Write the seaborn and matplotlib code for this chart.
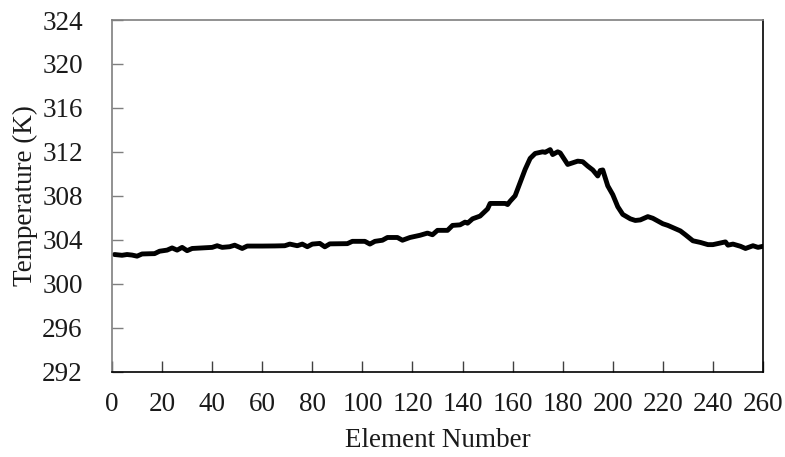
import matplotlib
matplotlib.use("Agg")
import matplotlib.pyplot as plt
import seaborn as sns
import pandas as pd

element = [1, 4, 6, 8, 10, 12, 15, 17, 19, 22, 24, 26, 28, 30, 32, 36, 40, 42, 44, 47,
           49, 52, 54, 60, 65, 69, 71, 74, 76, 78, 80, 83, 85, 87, 94, 96, 101, 103, 105, 108,
           110, 114, 116, 119, 123, 126, 128, 130, 134, 136, 139, 141, 142, 144, 147, 150, 151, 155, 157, 158,
           159, 161, 162, 164, 165, 167, 169, 172, 173, 175, 176, 178, 179, 182, 184, 186, 188, 190, 192, 194,
           195, 196, 198, 200, 202, 204, 207, 209, 211, 214, 216, 218, 220, 222, 225, 227, 229, 232, 235, 238,
           240, 242, 245, 246, 248, 251, 253, 256, 258, 260]
temperature = [302.65, 302.58, 302.65, 302.6, 302.5, 302.7, 302.72, 302.73, 302.95, 303.05, 303.25, 303.05, 303.3, 303.0, 303.2, 303.25, 303.3, 303.45, 303.3, 303.36,
               303.5, 303.2, 303.42, 303.42, 303.43, 303.45, 303.6, 303.45, 303.6, 303.36, 303.6, 303.66, 303.35, 303.62, 303.64, 303.85, 303.85, 303.6, 303.85, 303.95,
               304.2, 304.2, 303.95, 304.2, 304.4, 304.6, 304.45, 304.85, 304.85, 305.3, 305.35, 305.6, 305.5, 305.9, 306.15, 306.8, 307.3, 307.3, 307.3, 307.2,
               307.5, 308.0, 308.6, 309.8, 310.4, 311.4, 311.85, 312.0, 311.95, 312.2, 311.75, 312.0, 311.9, 310.85, 311.0, 311.15, 311.1, 310.7, 310.35, 309.8,
               310.3, 310.35, 308.9, 308.1, 307.0, 306.3, 305.9, 305.75, 305.8, 306.1, 305.95, 305.7, 305.45, 305.3, 305.0, 304.8, 304.45, 303.9, 303.75, 303.55,
               303.55, 303.65, 303.8, 303.5, 303.6, 303.4, 303.2, 303.45, 303.3, 303.4]

x_ticks = list(range(0, 261, 20))
y_ticks = list(range(292, 325, 4))

sns.set_theme(style="white")
plt.rcParams['font.family'] = ['Liberation Serif', 'DejaVu Serif']

df = pd.DataFrame({"Element Number": element, "Temperature (K)": temperature})

fig = plt.figure(figsize=(7.85, 4.57), dpi=100)
ax = fig.add_axes([112 / 785, 1 - 371.5 / 457, (763 - 112) / 785, (371.5 - 20) / 457])
sns.lineplot(data=df, x="Element Number", y="Temperature (K)", ax=ax,
             color="black", linewidth=3.5)

ax.set_xlim(0, 260)
ax.set_ylim(292, 324)
ax.set_xticks(x_ticks)
ax.set_yticks(y_ticks)
ax.set_xticklabels([str(v) for v in x_ticks])
ax.set_yticklabels([str(v) for v in y_ticks])

ax.tick_params(axis='x', direction='in', length=8, width=1, color='#404040',
               labelsize=19.5, pad=15, bottom=True, labelcolor='#1a1a1a')
ax.tick_params(axis='y', direction='in', length=8, width=1, color='#7f7f7f',
               labelsize=19.5, pad=21, left=True, labelcolor='#1a1a1a')

for side, col in [('left', '#7f7f7f'), ('top', '#7f7f7f'), ('bottom', 'black'), ('right', 'black')]:
    ax.spines[side].set_visible(True)
    ax.spines[side].set_color(col)
    ax.spines[side].set_linewidth(1.2)

ax.set_xlabel("Element Number", fontsize=19.5, color='#1a1a1a', labelpad=8)
ax.set_ylabel("Temperature (K)", fontsize=19.5, color='#1a1a1a', labelpad=3)

fig.savefig("out.png", dpi=100)
